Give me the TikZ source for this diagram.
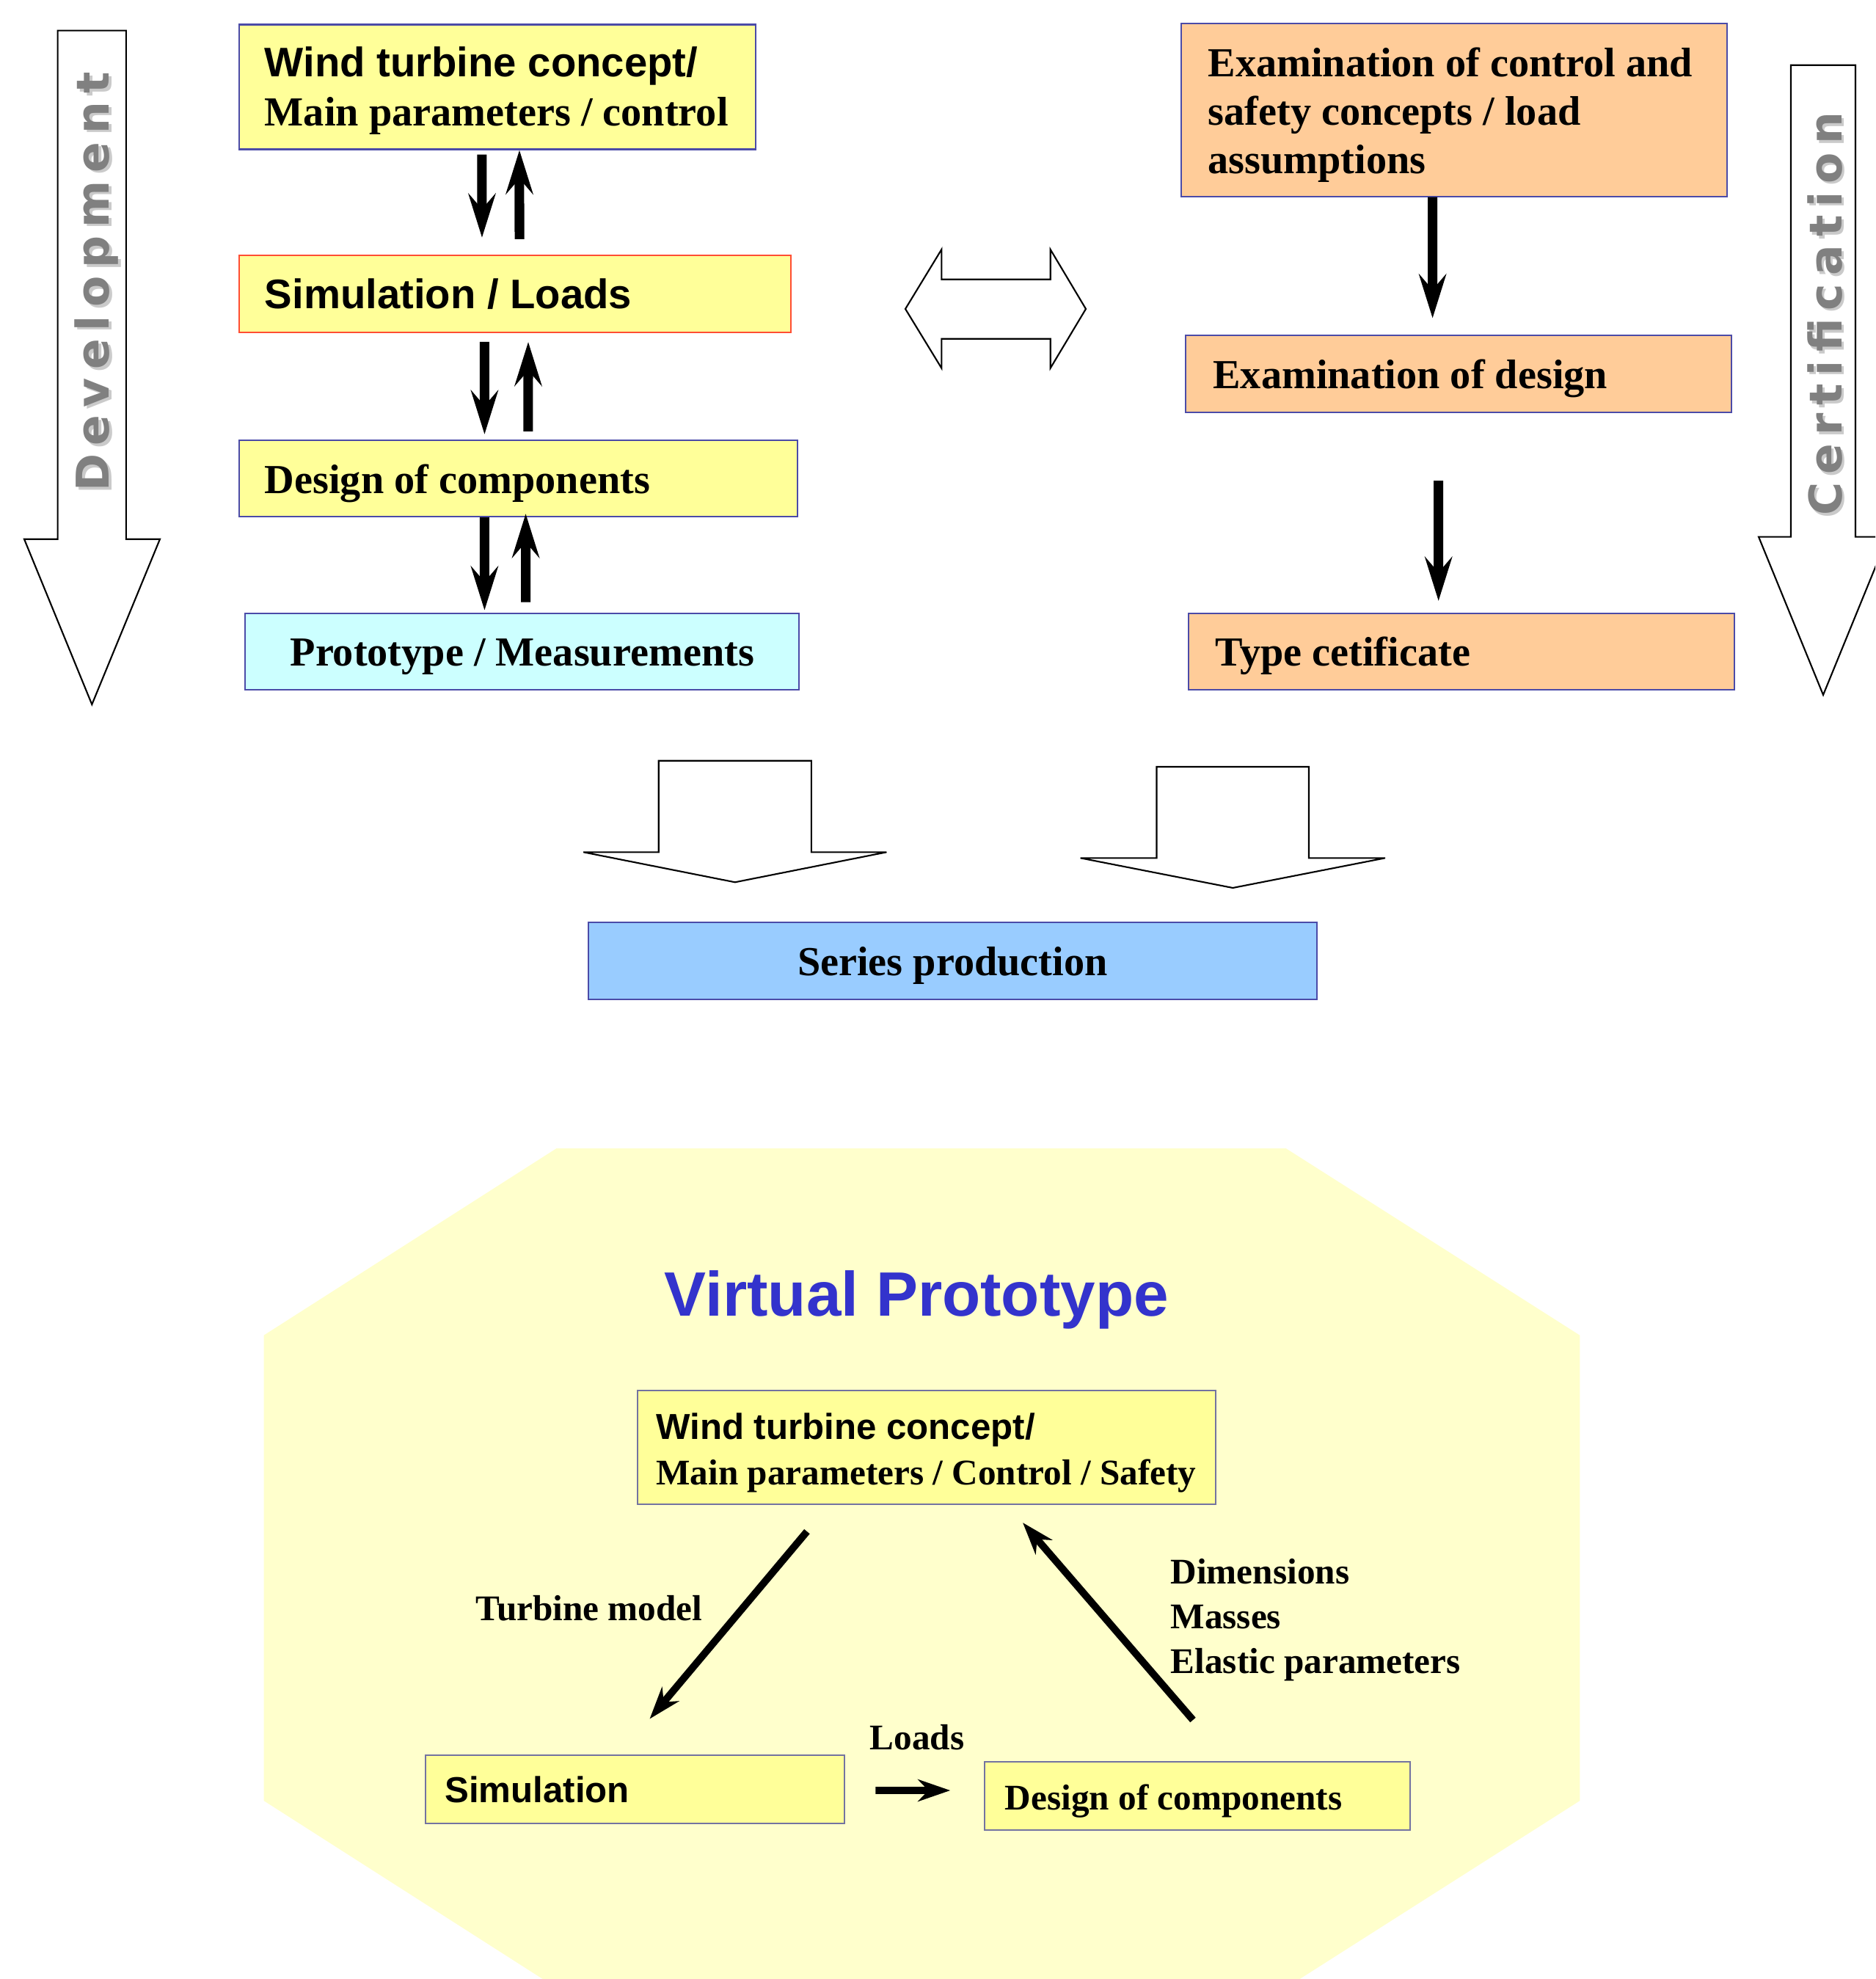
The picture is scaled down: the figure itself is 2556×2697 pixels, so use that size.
\documentclass[tikz,border=0pt]{standalone}
\usepackage{fontspec}
\setmainfont{Liberation Serif}
\setsansfont{Liberation Sans}
\newfontfamily\spacedfont[LetterSpace=18]{DejaVu Sans}
\usetikzlibrary{arrows.meta}
\definecolor{devyellow}{HTML}{FFFF99}
\definecolor{certorange}{HTML}{FFCC99}
\definecolor{protocyan}{HTML}{CCFFFF}
\definecolor{seriesblue}{HTML}{99CCFF}
\definecolor{vpyellow}{HTML}{FFFFCC}
\definecolor{boxline}{HTML}{4B4BA8}
\definecolor{loadsred}{HTML}{FF4D33}
\definecolor{vpline}{HTML}{7373A0}
\definecolor{vptitle}{HTML}{3333CC}
\definecolor{phasegray}{HTML}{808080}
\definecolor{phaseshadow}{HTML}{CACACA}
\tikzset{
  devbox/.style={draw=boxline, line width=0.6pt, inner xsep=0.35cm, inner ysep=0pt, align=left, font=\fontsize{16}{19}\selectfont\bfseries, execute at begin node={\spaceskip=0pt\xspaceskip=0pt\relax}},
  oneline/.style={text height=14.6pt, text depth=3.2pt},
  vpbox/.style={draw=vpline, line width=0.6pt, fill=devyellow, inner ysep=0pt, align=left, font=\fontsize{14}{17.4}\selectfont\bfseries, execute at begin node={\spaceskip=0pt\xspaceskip=0pt\relax}},
  vone/.style={text height=12.6pt, text depth=2pt},
  vtext/.style={inner sep=0pt, font=\fontsize{14}{17.3}\selectfont\bfseries},
  fatarrow/.style={line width=3.7pt, -{Stealth[length=17pt, width=10.5pt, inset=6pt]}},
  thinarrow/.style={line width=2.8pt, -{Stealth[length=12.5pt, width=8.5pt, inset=4pt]}},
  blockarrow/.style={draw, fill=white, line width=0.6pt},
  phase/.style={rotate=90, anchor=base, inner sep=0pt, font=\spacedfont\bfseries\fontsize{17.5}{20}\selectfont}
}
\begin{document}
\begin{tikzpicture}[x=0.01cm, y=-0.01cm]
\useasboundingbox (0,0) rectangle (2556,2697);
\clip (0,0) rectangle (2556,2697);
\fill[vpyellow] (758.5,1565) -- (1752.7,1565) -- (2153.4,1819.8) -- (2153.4,2454) -- (1752.7,2709) -- (758.5,2709) -- (359.5,2454) -- (359.5,1819.8) -- cycle;
\draw[blockarrow] (78.6,41.6) -- (171.9,41.6) -- (171.9,734.7) -- (218,734.7) -- (125.3,960) -- (33,734.7) -- (78.6,734.7) -- cycle;
\draw[blockarrow] (2441,88.8) -- (2529,88.8) -- (2529,731.6) -- (2573,731.6) -- (2485,947) -- (2397,731.6) -- (2441,731.6) -- cycle;
\draw[blockarrow] (1234,421) -- (1283.3,340) -- (1283.3,380.7) -- (1431.7,380.7) -- (1431.7,340) -- (1480,421) -- (1431.7,501.7) -- (1431.7,461.7) -- (1283.3,461.7) -- (1283.3,501.7) -- cycle;
\draw[blockarrow] (897.7,1036.7) -- (1105.9,1036.7) -- (1105.9,1161.3) -- (1208.4,1161.3) -- (1001.8,1202.3) -- (795.2,1161.3) -- (897.7,1161.3) -- cycle;
\draw[blockarrow] (1576.5,1045) -- (1784,1045) -- (1784,1169.3) -- (1888,1169.3) -- (1680.3,1210) -- (1472.6,1169.3) -- (1576.5,1169.3) -- cycle;
\node[phase, text=phaseshadow] at (152.2,387.5) {Development};
\node[phase, text=phasegray] (devt) at (148.7,384) {Development};
\node[phase, text=phaseshadow] at (2513.5,431.5) {Certification};
\node[phase, text=phasegray] (cert) at (2510,428) {Certification};
\node[devbox, fill=devyellow, text width=6.34cm, text depth=19.4pt, minimum height=1.70cm] (wtc) at (678,118.5) {{\sffamily Wind turbine concept/}\\\mbox{Main parameters / control}};
\node[devbox, oneline, fill=devyellow, draw=loadsred, text width=6.815cm, minimum height=1.05cm] (sim) at (701.8,400.4) {\sffamily Simulation / Loads};
\node[devbox, oneline, fill=devyellow, text width=6.91cm, minimum height=1.04cm] (doc) at (706.5,652) {Design of components};
\node[devbox, oneline, fill=protocyan, align=center, minimum width=7.544cm, minimum height=1.043cm] (pro) at (711.8,887.9) {Prototype / Measurements};
\node[devbox, fill=certorange, inner xsep=0.37cm, text width=6.702cm, text depth=36.9pt, minimum height=2.357cm, font=\fontsize{16}{18.7}\selectfont\bfseries] (exa) at (1981.9,149.7) {\mbox{Examination of control and}\\safety concepts / load\\assumptions};
\node[devbox, oneline, fill=certorange, inner xsep=0.37cm, text width=6.695cm, minimum height=1.05cm] (exd) at (1988.3,509.5) {Examination of design};
\node[devbox, oneline, fill=certorange, inner xsep=0.364cm, text width=6.706cm, minimum height=1.043cm] (tyc) at (1992.3,887.9) {Type cetificate};
\node[devbox, oneline, fill=seriesblue, align=center, minimum width=9.926cm, minimum height=1.05cm] (ser) at (1298.3,1309.2) {Series production};
\draw[fatarrow] ([xshift=3.32cm, yshift=-0.06cm]wtc.south west) -- ([xshift=3.32cm, yshift=0.23cm]sim.north west);
\draw[fatarrow] ([xshift=3.83cm, yshift=0.21cm]sim.north west) -- ([xshift=3.83cm]wtc.south west);
\draw[fatarrow] ([xshift=3.355cm, yshift=-0.12cm]sim.south west) -- ([xshift=3.355cm, yshift=0.07cm]doc.north west);
\draw[fatarrow] ([xshift=3.95cm, yshift=0.11cm]doc.north west) -- ([xshift=3.95cm, yshift=-0.12cm]sim.south west);
\draw[fatarrow] ([xshift=3.355cm]doc.south west) -- ([xshift=3.269cm, yshift=0.03cm]pro.north west);
\draw[fatarrow] ([xshift=3.83cm, yshift=0.14cm]pro.north west) -- ([xshift=3.916cm, yshift=0.05cm]doc.south west);
\draw[fatarrow] ([xshift=-0.293cm]exa.south) -- ([xshift=-0.357cm, yshift=0.223cm]exd.north);
\draw[fatarrow] ([xshift=-0.276cm, yshift=-0.92cm]exd.south) -- ([xshift=-0.316cm, yshift=0.157cm]tyc.north);
\node[font=\sffamily\bfseries\fontsize{24.3}{28}\selectfont, text=vptitle, anchor=base, inner sep=0pt] (vp) at (1249.4,1793.9) {Virtual Prototype};
\node[vpbox, inner xsep=0.252cm, text width=7.372cm, text depth=16.2pt, minimum height=1.542cm] (vwtc) at (1263.2,1972.5) {{\sffamily Wind turbine concept/}\\\mbox{Main parameters / Control / Safety}};
\node[vpbox, vone, inner xsep=0.265cm, text width=5.176cm, minimum height=0.93cm] (vsim) at (865.3,2438.2) {\sffamily Simulation};
\node[vpbox, vone, inner xsep=0.276cm, text width=5.244cm, minimum height=0.93cm] (vdoc) at (1632.2,2447.4) {Design of components};
\draw[thinarrow] ([xshift=-1.632cm, yshift=-0.364cm]vwtc.south) -- ([xshift=0.202cm, yshift=0.481cm]vsim.north);
\draw[thinarrow] ([xshift=-0.062cm, yshift=0.558cm]vdoc.north) -- ([xshift=1.308cm, yshift=-0.244cm]vwtc.south);
\draw[thinarrow] ([xshift=0.414cm, yshift=-0.018cm]vsim.east) -- ([xshift=-0.459cm, yshift=0.074cm]vdoc.west);
\node[vtext, anchor=base west] (tm) at (648,2208) {Turbine model};
\node[vtext, anchor=base west] (ld) at (1185,2384) {Loads};
\node[vtext, anchor=base west, align=left] (dm) at (1595,2280) {Dimensions\\Masses\\Elastic parameters};
\end{tikzpicture}
\end{document}
